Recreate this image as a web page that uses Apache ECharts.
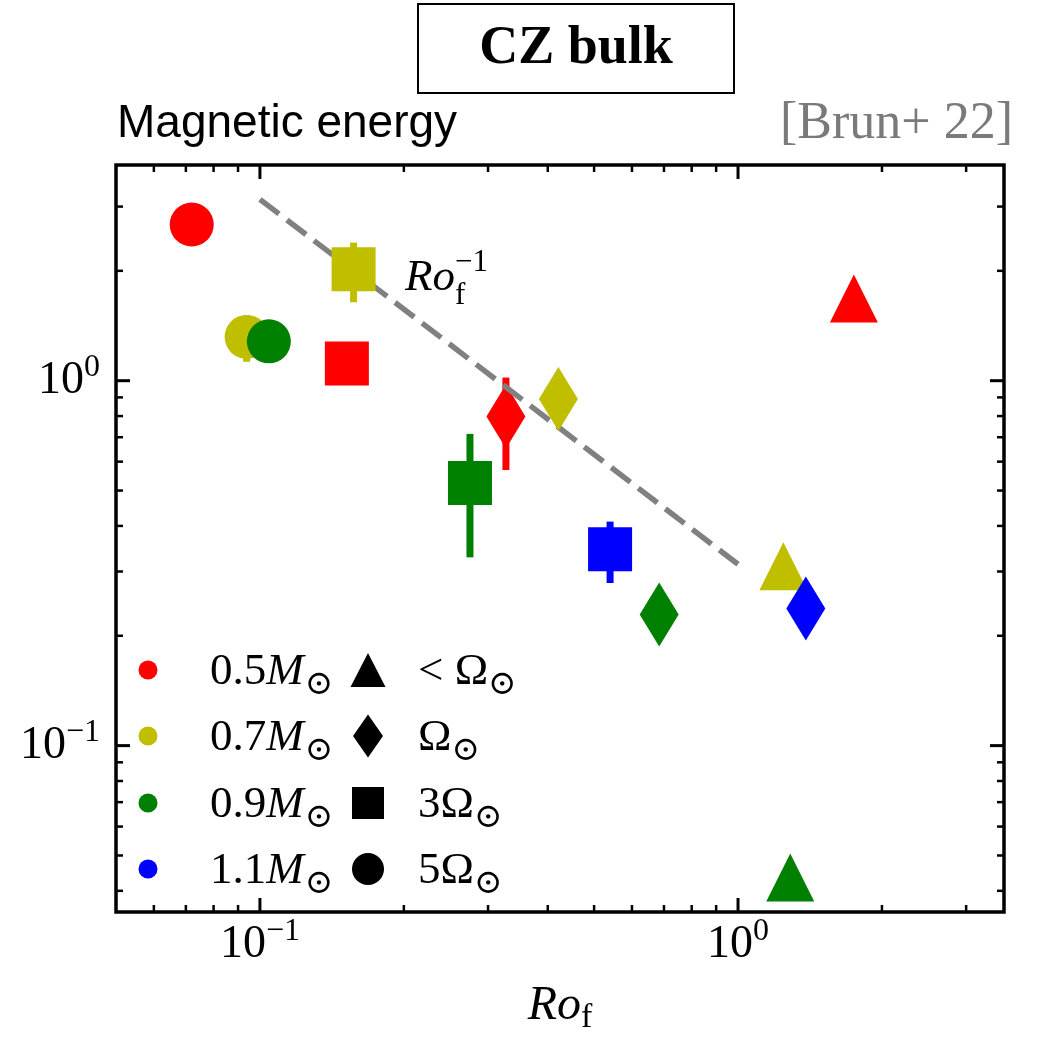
<!DOCTYPE html>
<html>
<head>
<meta charset="utf-8">
<script src="https://cdn.jsdelivr.net/npm/echarts@6/dist/echarts.min.js"></script>
<style>
  html, body { margin: 0; padding: 0; background: #fff; }
  #chart { width: 1038px; height: 1038px; }
</style>
</head>
<body>
<div id="chart"></div>
<script>
// ---- data -------------------------------------------------------------
// stellar masses (M_sun) and their colours
const massLabels = ['0.5', '0.7', '0.9', '1.1'];
const massColors = ['#ff0000', '#bfbf00', '#008000', '#0000ff'];

// rotation rates: 0 = <Ω⊙, 1 = Ω⊙, 2 = 3Ω⊙, 3 = 5Ω⊙
const rotationLabels = ['< Ω', 'Ω', '3Ω', '5Ω'];

// 0.5 M⊙ : fluid Rossby number, magnetic energy, rotation, error range
const ro05 = [0.0720, 0.152, 0.327, 1.747];
const em05 = [2.68, 1.115, 0.798, 1.68];
const rot05 = [3, 2, 1, 0];
const lo05 = [null, null, 0.569, null];
const hi05 = [null, null, 1.02, null];

// 0.7 M⊙
const ro07 = [0.0938, 0.157, 0.421, 1.244];
const em07 = [1.318, 2.02, 0.891, 0.310];
const rot07 = [3, 2, 1, 0];
const lo07 = [1.127, 1.64, null, null];
const hi07 = [1.51, 2.39, null, null];

// 0.9 M⊙
const ro09 = [0.1044, 0.275, 0.684, 1.286];
const em09 = [1.282, 0.524, 0.2286, 0.0435];
const rot09 = [3, 2, 1, 0];
const lo09 = [null, 0.328, null, null];
const hi09 = [null, 0.715, null, null];

// 1.1 M⊙
const ro11 = [0.540, 1.386];
const em11 = [0.3455, 0.2375];
const rot11 = [2, 1];
const lo11 = [0.279, null];
const hi11 = [0.411, null];

// Ro_f^-1 reference line end points
const refRo = [0.1, 1.0];
const refEm = [3.14, 0.314];

// axis ranges and decade ticks
const xRange = [0.05, 3.6];
const yRange = [0.035, 3.9];
const decadeTicks = [0.1, 1];

// ---- styling helpers ---------------------------------------------------
const SERIF = "'Liberation Serif', 'DejaVu Serif', serif";
const SANS = "'Liberation Sans', 'DejaVu Sans', sans-serif";

const rotSymbols = ['triangle', 'diamond', 'rect', 'circle'];
const rotSizes = [[48, 48], [39, 64], [44, 44], [44, 44]];

const measureCtx = document.createElement('canvas').getContext('2d');
function fontOf(p) {
  return (p.italic ? 'italic ' : '') + (p.bold ? 'bold ' : '') + p.size + 'px ' + (p.family || SERIF);
}
function widthOf(p) {
  measureCtx.font = fontOf(p);
  return measureCtx.measureText(p.text).width;
}
// math-like text built from pieces on a common centre line;
// a piece with `stack` starts where the previous piece started
function mathText(pieces, x, cy, align, color) {
  const starts = [];
  let cursor = 0, prevStart = 0;
  pieces.forEach(p => {
    const start = (p.stack ? prevStart : cursor) + (p.dx || 0);
    starts.push(start);
    prevStart = start;
    cursor = Math.max(cursor, start + widthOf(p));
  });
  const x0 = align === 'center' ? x - cursor / 2 : align === 'right' ? x - cursor : x;
  return pieces.map((p, i) => ({
    type: 'text',
    x: x0 + starts[i],
    y: cy + (p.dy || 0),
    silent: true,
    style: {
      text: p.text,
      font: fontOf(p),
      fill: p.color || color || '#000',
      align: 'left', verticalAlign: 'middle',
      textAlign: 'left', textVerticalAlign: 'middle'
    }
  }));
}

function minorTicks(range) {
  const out = [];
  for (let e = -3; e <= 2; e++) {
    for (let k = 2; k <= 9; k++) {
      const v = +(k * Math.pow(10, e)).toPrecision(6);
      if (v > range[0] * 1.001 && v < range[1] * 0.999) out.push(v);
    }
  }
  return out;
}

function decadeLabel(v) {
  const e = Math.log10(v);
  const r = Math.round(e);
  if (Math.abs(e - r) > 1e-6) return '';
  return '{b|10}{e|' + (r < 0 ? '\u2212' + (-r) : r) + '}';
}
const labelRich = {
  b: { fontFamily: SERIF, fontSize: 46, lineHeight: 58, verticalAlign: 'middle', color: '#000' },
  e: { fontFamily: SERIF, fontSize: 32, height: 32, verticalAlign: 'top', color: '#000' }
};

function errorBarItem(color) {
  return function (params, api) {
    const top = api.coord([api.value(0), api.value(2)]);
    const bottom = api.coord([api.value(0), api.value(1)]);
    const w = 7;
    return {
      type: 'rect',
      shape: { x: top[0] - w / 2, y: top[1], width: w, height: bottom[1] - top[1] },
      style: { fill: color }
    };
  };
}

function tickItem(horizontal) {
  return function (params, api) {
    const cs = params.coordSys;
    const p = api.coord([api.value(0), api.value(1)]);
    const len = api.value(2), lw = api.value(3);
    const st = { stroke: '#000', lineWidth: lw };
    if (horizontal) {
      const x = p[0], b = cs.y + cs.height, t = cs.y;
      return { type: 'group', children: [
        { type: 'line', shape: { x1: x, y1: b, x2: x, y2: b - len }, style: st },
        { type: 'line', shape: { x1: x, y1: t, x2: x, y2: t + len }, style: st }
      ] };
    }
    const y = p[1], l = cs.x, r = cs.x + cs.width;
    return { type: 'group', children: [
      { type: 'line', shape: { x1: l, y1: y, x2: l + len, y2: y }, style: st },
      { type: 'line', shape: { x1: r, y1: y, x2: r - len, y2: y }, style: st }
    ] };
  };
}

// ---- series ------------------------------------------------------------
const groups = [
  { ro: ro05, em: em05, rot: rot05, lo: lo05, hi: hi05 },
  { ro: ro07, em: em07, rot: rot07, lo: lo07, hi: hi07 },
  { ro: ro09, em: em09, rot: rot09, lo: lo09, hi: hi09 },
  { ro: ro11, em: em11, rot: rot11, lo: lo11, hi: hi11 }
];

const series = [];
let z = 1;
groups.forEach((g, i) => {
  const color = massColors[i];
  const bars = [];
  g.lo.forEach((lo, k) => { if (lo != null) bars.push([g.ro[k], lo, g.hi[k]]); });
  if (bars.length) {
    series.push({
      type: 'custom', name: massLabels[i] + ' err', z: z++, silent: true,
      renderItem: errorBarItem(color), data: bars, encode: { x: 0, y: [1, 2] }
    });
  }
  series.push({
    type: 'scatter', name: massLabels[i], z: z++, silent: true,
    itemStyle: { color: color, opacity: 1 },
    data: g.ro.map((x, k) => ({
      value: [x, g.em[k]],
      symbol: rotSymbols[g.rot[k]],
      symbolSize: rotSizes[g.rot[k]]
    }))
  });
  if (i === 0) {
    series.push({
      type: 'line', name: 'Ro^-1', z: z++, silent: true,
      symbol: 'none',
      lineStyle: { color: '#808080', width: 5.5, type: [24, 10], cap: 'butt' },
      data: refRo.map((x, k) => [x, refEm[k]])
    });
  }
});

const xTickData = decadeTicks.map(v => [v, 1, 14, 3])
  .concat(minorTicks(xRange).map(v => [v, 1, 7, 2.5]));
const yTickData = decadeTicks.map(v => [1, v, 14, 3])
  .concat(minorTicks(yRange).map(v => [1, v, 7, 2.5]));
series.push({ type: 'custom', z: 20, silent: true, renderItem: tickItem(true), data: xTickData });
series.push({ type: 'custom', z: 20, silent: true, renderItem: tickItem(false), data: yTickData });

// ---- annotations and legend --------------------------------------------
const graphics = [];

// title box
graphics.push({
  type: 'rect', silent: true,
  shape: { x: 418, y: 4, width: 316, height: 89 },
  style: { fill: 'none', stroke: '#000', lineWidth: 2 }
});
graphics.push(...mathText([{ text: 'CZ bulk', size: 54, bold: true }], 576, 49, 'center'));
graphics.push(...mathText([{ text: 'Magnetic energy', size: 46, family: SANS }], 117, 124, 'left'));
graphics.push(...mathText([{ text: '[Brun+ 22]', size: 52 }], 1013, 124, 'right', '#7a7a7a'));

// Ro_f^-1 label next to the reference line
graphics.push(...mathText([
  { text: 'Ro', size: 45, italic: true },
  { text: 'f', size: 31, dy: 18 },
  { text: '\u22121', size: 31, dy: -15, stack: true }
], 405, 278, 'left'));

// x axis title
graphics.push(...mathText([
  { text: 'Ro', size: 48, italic: true },
  { text: 'f', size: 34, dy: 12 }
], 560, 1006, 'center'));

// legend
const legendRows = [670, 736, 803, 869];
massLabels.forEach((m, i) => {
  const cy = legendRows[i];
  graphics.push({ type: 'circle', silent: true, shape: { cx: 148, cy: cy, r: 9.5 }, style: { fill: massColors[i] } });
  graphics.push(...mathText([
    { text: m, size: 45 },
    { text: 'M', size: 45, italic: true },
    { text: '\u2299', size: 34, dy: 13, dx: 1 }
  ], 210, cy + 2, 'left'));
});
rotationLabels.forEach((r, j) => {
  const cy = legendRows[j];
  const cx = 368;
  let shape;
  if (j === 0) shape = { type: 'polygon', shape: { points: [[cx, cy - 17], [cx - 17.5, cy + 17], [cx + 17.5, cy + 17]] } };
  else if (j === 1) shape = { type: 'polygon', shape: { points: [[cx, cy - 21.5], [cx + 15, cy], [cx, cy + 21.5], [cx - 15, cy]] } };
  else if (j === 2) shape = { type: 'rect', shape: { x: cx - 16, y: cy - 16, width: 32, height: 32 } };
  else shape = { type: 'circle', shape: { cx: cx, cy: cy, r: 16 } };
  shape.silent = true;
  shape.style = { fill: '#000' };
  graphics.push(shape);
  graphics.push(...mathText([
    { text: r, size: 45 },
    { text: '\u2299', size: 34, dy: 13 }
  ], 418, cy + 2, 'left'));
});

// ---- chart -------------------------------------------------------------
const chart = echarts.init(document.getElementById('chart'), null, { renderer: 'canvas' });
chart.setOption({
  animation: false,
  backgroundColor: '#fff',
  grid: {
    left: 116, top: 165, right: 34, bottom: 126,
    show: true, borderColor: '#000', borderWidth: 3.5,
    containLabel: false, outerBoundsMode: 'none'
  },
  xAxis: {
    type: 'log', logBase: 10, min: xRange[0], max: xRange[1],
    axisLine: { show: false }, axisTick: { show: false },
    splitLine: { show: false }, minorTick: { show: false },
    axisLabel: { formatter: decadeLabel, rich: labelRich, margin: 4, showMinLabel: true, showMaxLabel: true, hideOverlap: false }
  },
  yAxis: {
    type: 'log', logBase: 10, min: yRange[0], max: yRange[1],
    axisLine: { show: false }, axisTick: { show: false },
    splitLine: { show: false }, minorTick: { show: false },
    axisLabel: { formatter: decadeLabel, rich: labelRich, margin: 16, showMinLabel: true, showMaxLabel: true, hideOverlap: false }
  },
  series: series,
  graphic: { elements: graphics }
});
</script>
</body>
</html>
